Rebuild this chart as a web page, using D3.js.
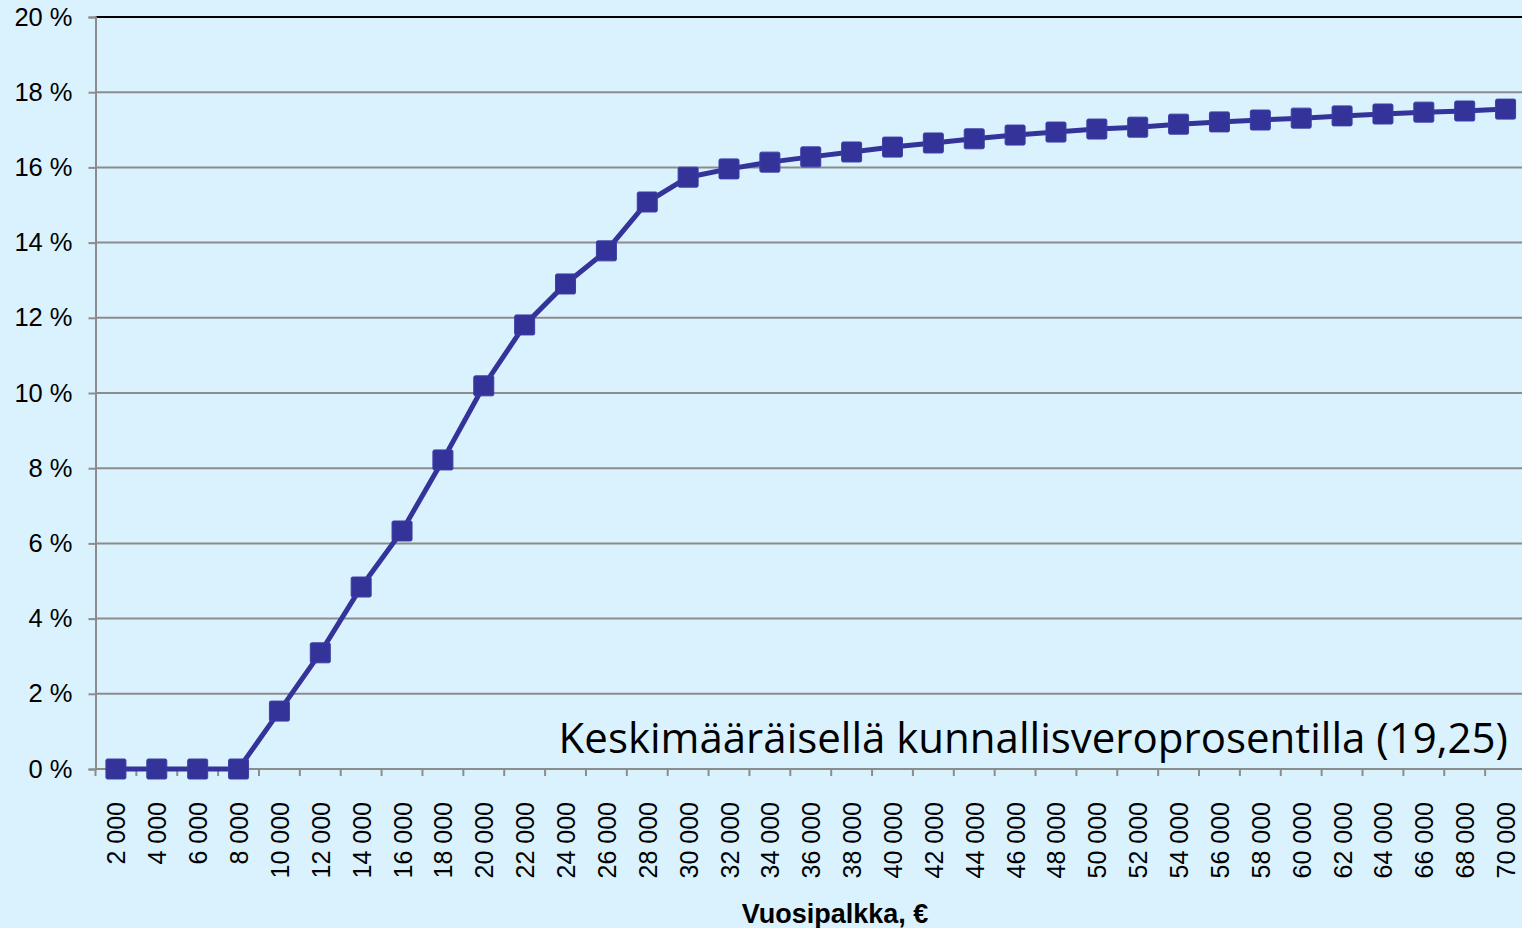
<!DOCTYPE html>
<html>
<head>
<meta charset="utf-8">
<script src="https://cdn.jsdelivr.net/npm/d3@7"></script>
<style>
  html, body { margin: 0; padding: 0; background: #d9f2fe; overflow: hidden; }
  svg { display: block; }
</style>
</head>
<body>
<div id="chart"></div>
<script>
// salary categories (euros / year)
var salaries = [2000, 4000, 6000, 8000, 10000, 12000, 14000, 16000, 18000, 20000,
  22000, 24000, 26000, 28000, 30000, 32000, 34000, 36000, 38000, 40000,
  42000, 44000, 46000, 48000, 50000, 52000, 54000, 56000, 58000, 60000,
  62000, 64000, 66000, 68000, 70000];
// tax rate in percent
var taxRates = [0, 0, 0, 0, 1.54, 3.09, 4.84, 6.33, 8.22, 10.19,
  11.81, 12.9, 13.78, 15.08, 15.74, 15.96, 16.14, 16.28, 16.41, 16.54,
  16.65, 16.76, 16.86, 16.94, 17.02, 17.07, 17.15, 17.21, 17.26, 17.31,
  17.37, 17.42, 17.47, 17.5, 17.55];
var yTicks = [0, 2, 4, 6, 8, 10, 12, 14, 16, 18, 20];
var note = "Keskimääräisellä kunnallisveroprosentilla (19,25)";
var xTitle = "Vuosipalkka, €";

document.addEventListener('DOMContentLoaded', function () {
    var W = 1522, H = 928;
    var left = 95.5, right = 1526, top = 17, bottom = 769;

    var svg = d3.select('#chart').append('svg')
        .attr('width', W)
        .attr('height', H);

    svg.append('rect').attr('width', W).attr('height', H).attr('fill', '#d9f2fe');

    var x = d3.scaleBand()
        .domain(salaries)
        .range([left, right]);

    var y = d3.scaleLinear()
        .domain([0, 20])
        .range([bottom, top]);

    // gridlines
    svg.append('g')
        .selectAll('line')
        .data(yTicks.filter(function (d) { return d > 0 && d < 20; }))
        .enter()
        .append('line')
            .attr('x1', left)
            .attr('x2', W)
            .attr('y1', function (d) { return y(d); })
            .attr('y2', function (d) { return y(d); })
            .attr('stroke', '#8c8c8c')
            .attr('stroke-width', 2);

    // top border
    svg.append('line')
        .attr('x1', left).attr('x2', W)
        .attr('y1', y(20)).attr('y2', y(20))
        .attr('stroke', '#000').attr('stroke-width', 2);

    // y axis
    var yAxis = svg.append('g')
        .attr('transform', 'translate(' + left + ',0)')
        .call(d3.axisLeft(y).tickValues(yTicks).tickSize(7).tickPadding(16)
            .tickFormat(function (d) { return d + ' %'; }));
    yAxis.select('.domain').attr('stroke', '#8c8c8c').attr('stroke-width', 2);
    yAxis.selectAll('.tick line').attr('stroke', '#8c8c8c').attr('stroke-width', 2);
    yAxis.selectAll('.tick text')
        .attr('fill', '#000')
        .style('font-family', 'Liberation Sans, Arial, sans-serif')
        .style('font-size', '25.5px');

    // x axis: ticks at band edges
    var xg = svg.append('g');
    xg.append('line')
        .attr('x1', left).attr('x2', W)
        .attr('y1', bottom).attr('y2', bottom)
        .attr('stroke', '#8c8c8c').attr('stroke-width', 2);
    xg.selectAll('.edge')
        .data(salaries)
        .enter()
        .append('line')
            .attr('class', 'edge')
            .attr('x1', function (d) { return x(d); })
            .attr('x2', function (d) { return x(d); })
            .attr('y1', bottom)
            .attr('y2', bottom + 7)
            .attr('stroke', '#8c8c8c')
            .attr('stroke-width', 2);
    xg.selectAll('.lbl')
        .data(salaries)
        .enter()
        .append('text')
            .attr('class', 'lbl')
            .attr('transform', function (d) {
                return 'translate(' + (x(d) + x.bandwidth() / 2 + 9.5) + ',' + (bottom + 33) + ') rotate(-90)';
            })
            .style('text-anchor', 'end')
            .style('font-family', 'Liberation Sans, Arial, sans-serif')
            .style('font-size', '25px')
            .text(function (d) { return d3.format(',')(d).replace(',', ' '); });

    // series line
    var line = d3.line()
        .x(function (d, i) { return x(salaries[i]) + x.bandwidth() / 2; })
        .y(function (d) { return y(d); });

    svg.append('path')
        .datum(taxRates)
        .attr('d', line)
        .attr('fill', 'none')
        .attr('stroke', '#333399')
        .attr('stroke-width', 5);

    var m = 20;
    svg.selectAll('.marker')
        .data(taxRates)
        .enter()
        .append('rect')
            .attr('class', 'marker')
            .attr('x', function (d, i) { return x(salaries[i]) + x.bandwidth() / 2 - m / 2; })
            .attr('y', function (d) { return y(d) - m / 2; })
            .attr('width', m)
            .attr('height', m)
            .attr('rx', 1.5)
            .attr('fill', '#333399')
            .attr('stroke', '#3d3da6')
            .attr('stroke-width', 1);

    // annotation
    svg.append('text')
        .attr('x', 1508)
        .attr('y', 753)
        .style('text-anchor', 'end')
        .style('font-family', 'Open Sans, Noto Sans, sans-serif')
        .style('font-size', '42px')
        .attr('fill', '#000')
        .text(note);

    // x axis title
    svg.append('text')
        .attr('x', 835)
        .attr('y', 923)
        .style('text-anchor', 'middle')
        .style('font-family', 'Liberation Sans, Arial, sans-serif')
        .style('font-weight', 'bold')
        .style('font-size', '27px')
        .text(xTitle);
});
</script>
</body>
</html>
